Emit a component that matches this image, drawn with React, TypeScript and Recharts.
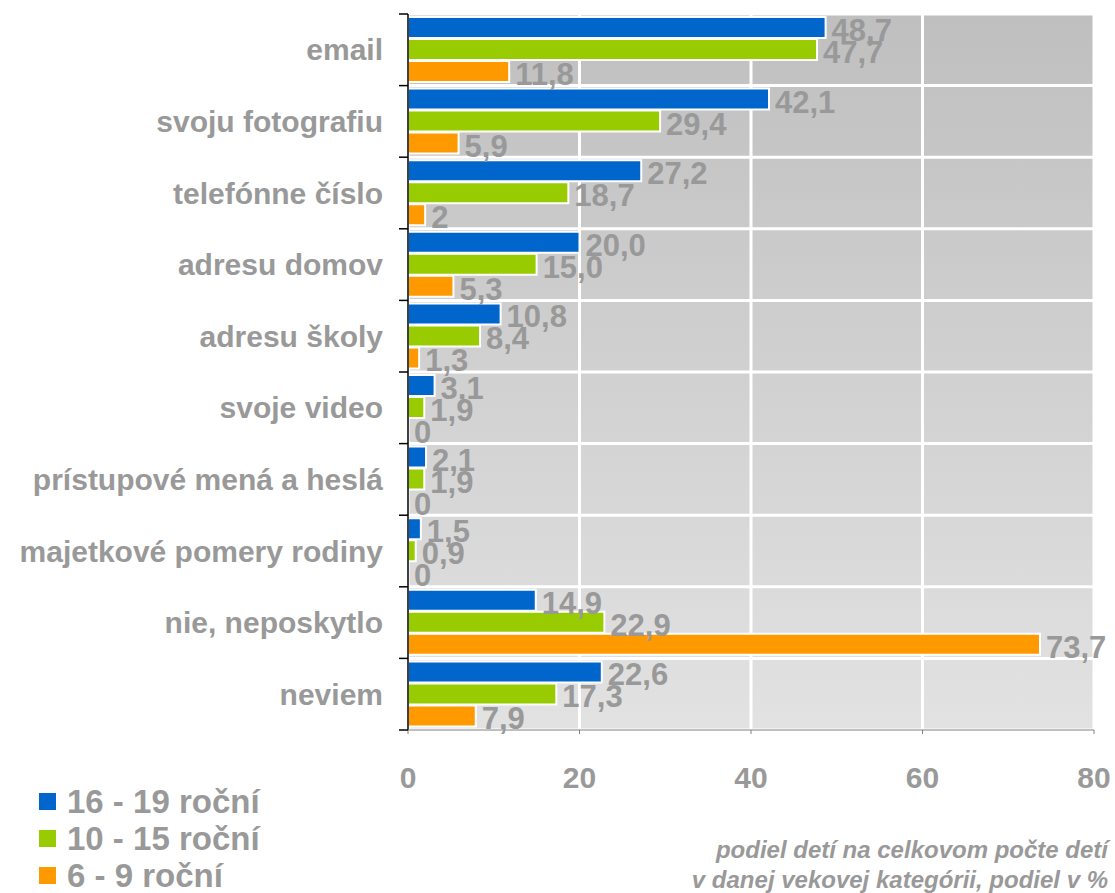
import React from 'react';
import { BarChart, Bar, XAxis, YAxis, CartesianGrid, LabelList, Rectangle } from 'recharts';

const categories = [
    'email',
    'svoju fotografiu',
    'telefónne číslo',
    'adresu domov',
    'adresu školy',
    'svoje video',
    'prístupové mená a heslá',
    'majetkové pomery rodiny',
    'nie, neposkytlo',
    'neviem',
];

const teens = [48.7, 42.1, 27.2, 20.0, 10.8, 3.1, 2.1, 1.5, 14.9, 22.6];
const olderKids = [47.7, 29.4, 18.7, 15.0, 8.4, 1.9, 1.9, 0.9, 22.9, 17.3];
const youngKids = [11.8, 5.9, 2, 5.3, 1.3, 0, 0, 0, 73.7, 7.9];

const teensLabels = ['48,7', '42,1', '27,2', '20,0', '10,8', '3,1', '2,1', '1,5', '14,9', '22,6'];
const olderLabels = ['47,7', '29,4', '18,7', '15,0', '8,4', '1,9', '1,9', '0,9', '22,9', '17,3'];
const youngLabels = ['11,8', '5,9', '2', '5,3', '1,3', '0', '0', '0', '73,7', '7,9'];

const seriesNames = ['16 - 19 roční', '10 - 15 roční', '6 - 9 roční'];
const seriesColors = ['#0066cc', '#99cc00', '#ff9900'];

const xTicks = [0, 20, 40, 60, 80];

const data = categories.map((name, i) => ({
    name,
    teens: teens[i],
    older: olderKids[i],
    young: youngKids[i],
    teensLabel: teensLabels[i],
    olderLabel: olderLabels[i],
    youngLabel: youngLabels[i],
}));

const FONT = '"Liberation Sans", Arial, sans-serif';
const GREY_TEXT = '#999999';
const CAT_TICK_MARGIN = 25;

// zero-valued bars keep their label but draw no rectangle
const barShape = (props: any) => {
    if (!props.width || props.width < 0.5) return <g />;
    const { x, y, width, height, fill, stroke, strokeWidth } = props;
    return <Rectangle x={x} y={y} width={width} height={height} fill={fill} stroke={stroke} strokeWidth={strokeWidth} />;
};

const renderValueLabel = (props: any) => {
    const { x, y, width, height, value } = props;
    return (
        <text
            x={x + (width || 0) + 6}
            y={y + height / 2 + 3}
            dominantBaseline="central"
            fill={GREY_TEXT}
            fontSize={31}
            fontWeight="bold"
            fontFamily={FONT}
        >
            {value}
        </text>
    );
};

// category label plus black tick marks on band edges
const renderCategoryTick = (props: any) => {
    const { x, y, payload, index, visibleTicksCount } = props;
    const half = payload && payload.offset ? payload.offset : 0;
    const axisX = x + CAT_TICK_MARGIN;
    const isLast = index === visibleTicksCount - 1;
    return (
        <g>
            <line x1={axisX - 9} x2={axisX} y1={y - half} y2={y - half} stroke="#000" strokeWidth={1.5} />
            {isLast && <line x1={axisX - 9} x2={axisX} y1={y + half} y2={y + half} stroke="#000" strokeWidth={1.5} />}
            <text
                x={x}
                y={y}
                textAnchor="end"
                dominantBaseline="central"
                fill={GREY_TEXT}
                fontSize={30}
                fontWeight="bold"
                fontFamily={FONT}
            >
                {payload.value}
            </text>
        </g>
    );
};

const bandEdgeGenerator = ({ offset }: any) => {
    const step = offset.height / categories.length;
    return categories.map((_, i) => offset.top + i * step).concat(offset.top + offset.height);
};

export default function App() {
    return (
        <div style={{ position: 'absolute', left: 0, top: 0, width: 1115, height: 893, background: '#fff' }}>
            <BarChart
                width={1115}
                height={893}
                data={data}
                layout="vertical"
                margin={{ top: 14, right: 21, bottom: 103, left: 0 }}
                barCategoryGap={3}
                barGap={1}
            >
                <defs>
                    <linearGradient id="plotBg" x1="0" y1="0" x2="0" y2="1">
                        <stop offset="0%" stopColor="#bfbfbf" />
                        <stop offset="100%" stopColor="#e2e2e2" />
                    </linearGradient>
                </defs>
                <CartesianGrid
                    stroke="#ffffff"
                    strokeWidth={3}
                    fill="url(#plotBg)"
                    fillOpacity={1}
                    horizontalCoordinatesGenerator={bandEdgeGenerator}
                />
                <YAxis
                    type="category"
                    dataKey="name"
                    width={408}
                    interval={0}
                    axisLine={{ stroke: '#000', strokeWidth: 1.5 }}
                    tickLine={false}
                    tickSize={0}
                    tickMargin={CAT_TICK_MARGIN}
                    tick={renderCategoryTick}
                />
                <XAxis
                    type="number"
                    domain={[0, 80]}
                    ticks={xTicks}
                    height={60}
                    axisLine={{ stroke: '#808080' }}
                    tickLine={{ stroke: '#808080' }}
                    tickSize={4}
                    tickMargin={33}
                    tick={{ fill: GREY_TEXT, fontSize: 30, fontWeight: 'bold', fontFamily: FONT }}
                />
                <Bar dataKey="teens" name={seriesNames[0]} fill={seriesColors[0]} stroke="#fff" strokeWidth={2} shape={barShape} minPointSize={0.01} isAnimationActive={false}>
                    <LabelList dataKey="teensLabel" content={renderValueLabel} />
                </Bar>
                <Bar dataKey="older" name={seriesNames[1]} fill={seriesColors[1]} stroke="#fff" strokeWidth={2} shape={barShape} minPointSize={0.01} isAnimationActive={false}>
                    <LabelList dataKey="olderLabel" content={renderValueLabel} />
                </Bar>
                <Bar dataKey="young" name={seriesNames[2]} fill={seriesColors[2]} stroke="#fff" strokeWidth={2} shape={barShape} minPointSize={0.01} isAnimationActive={false}>
                    <LabelList dataKey="youngLabel" content={renderValueLabel} />
                </Bar>
            </BarChart>
            <div style={{ position: 'absolute', left: 39, top: 783, fontFamily: FONT }}>
                {seriesNames.map((name, i) => (
                    <div key={name} style={{ display: 'flex', alignItems: 'center', height: 37 }}>
                        <span style={{ display: 'inline-block', width: 17, height: 17, background: seriesColors[i], marginRight: 11 }} />
                        <span style={{ fontSize: 33, fontWeight: 'bold', color: GREY_TEXT, lineHeight: '30px' }}>{name}</span>
                    </div>
                ))}
            </div>
            <div
                style={{
                    position: 'absolute',
                    right: 7,
                    top: 835,
                    textAlign: 'right',
                    fontFamily: FONT,
                    fontSize: 24,
                    lineHeight: '30px',
                    fontStyle: 'italic',
                    fontWeight: 'bold',
                    color: GREY_TEXT,
                }}
            >
                podiel detí na celkovom počte detí
                <br />
                v danej vekovej kategórii, podiel v %
            </div>
        </div>
    );
}
